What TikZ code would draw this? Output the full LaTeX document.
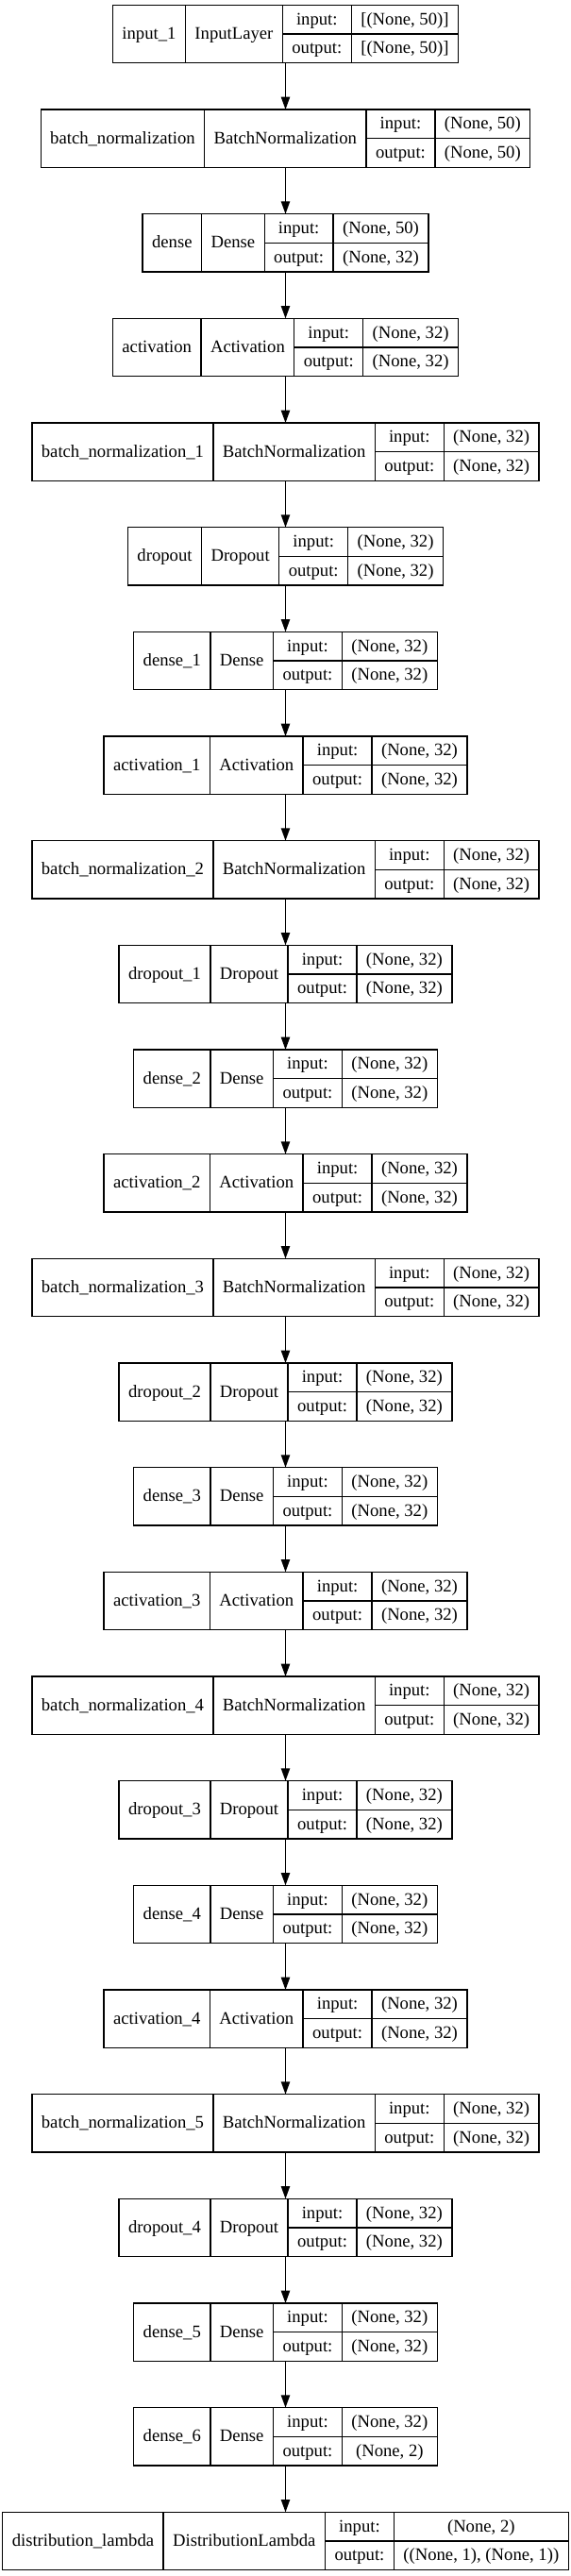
\documentclass[tikz,border=0pt]{standalone}
\usepackage{fontspec}
\setmainfont{Liberation Serif}
\usetikzlibrary{arrows.meta}
\newlength\klA \newlength\klB \newlength\klC \newlength\klD \newlength\klE
\def\kpad{15}
\def\kbase{4.2}
\newcommand\kfont{\normalfont\fontsize{14pt}{16.8pt}\selectfont}
\tikzset{
  rec/.style={draw, line width=1pt, inner sep=0pt, outer sep=0pt, minimum height=46pt},
  cell/.style={draw, line width=1pt},
  txt/.style={inner sep=0pt, anchor=base, font=\kfont},
  arr/.style={line width=1pt, -{Triangle[length=10pt,width=7pt]}}
}
\newcommand\kl[6]{%
  \pgfinterruptpicture
  \settowidth\klA{\kfont #3}\global\klA=\klA
  \settowidth\klB{\kfont #4}\global\klB=\klB
  \settowidth\klC{\kfont output:}\global\klC=\klC
  \settowidth\klD{\kfont #5}\global\klD=\klD
  \settowidth\klE{\kfont #6}\global\klE=\klE
  \endpgfinterruptpicture
  \pgfmathsetmacro\kwA{\klA+\kpad}%
  \pgfmathsetmacro\kwB{\klB+\kpad}%
  \pgfmathsetmacro\kwC{\klC+\kpad}%
  \pgfmathsetmacro\kwD{max(\klD,\klE)+\kpad}%
  \pgfmathsetmacro\kwT{\kwA+\kwB+\kwC+\kwD}%
  \pgfmathsetmacro\kxL{226.875-\kwT/2}%
  \pgfmathsetmacro\kxA{\kxL+\kwA}%
  \pgfmathsetmacro\kxB{\kxA+\kwB}%
  \pgfmathsetmacro\kxC{\kxB+\kwC}%
  \pgfmathsetmacro\kxR{\kxL+\kwT}%
  \pgfmathsetmacro\kcA{(\kxL+\kxA)/2}%
  \pgfmathsetmacro\kcB{(\kxA+\kxB)/2}%
  \pgfmathsetmacro\kcC{(\kxB+\kxC)/2}%
  \pgfmathsetmacro\kcD{(\kxC+\kxR)/2}%
  \pgfmathsetmacro\kyT{-(4+83*#2)}%
  \pgfmathsetmacro\kyM{\kyT-23}%
  \pgfmathsetmacro\kyB{\kyT-46}%
  \pgfmathsetmacro\kyU{\kyT-11.5-\kbase}%
  \pgfmathsetmacro\kyD{\kyT-34.5-\kbase}%
  \pgfmathsetmacro\kyC{\kyM-\kbase}%
  \node[rec, minimum width=\kwT pt] (#1) at (226.875pt,\kyM pt) {};
  \draw[cell] (\kxA pt,\kyT pt) -- (\kxA pt,\kyB pt)
              (\kxB pt,\kyT pt) -- (\kxB pt,\kyB pt)
              (\kxC pt,\kyT pt) -- (\kxC pt,\kyB pt)
              (\kxB pt,\kyM pt) -- (\kxR pt,\kyM pt);
  \node[txt] (#1-name) at (\kcA pt,\kyC pt) {#3};
  \node[txt] (#1-class) at (\kcB pt,\kyC pt) {#4};
  \node[txt] (#1-inl) at (\kcC pt,\kyU pt) {input:};
  \node[txt] (#1-outl) at (\kcC pt,\kyD pt) {output:};
  \node[txt] (#1-ins) at (\kcD pt,\kyU pt) {#5};
  \node[txt] (#1-outs) at (\kcD pt,\kyD pt) {#6};
}
\begin{document}
\begin{tikzpicture}
\useasboundingbox (0,0) rectangle (453.75pt,-2046.75pt);
\fill[white] (0,0) rectangle (453.75pt,-2046.75pt);
\kl{n0}{0}{input\_1}{InputLayer}{[(None, 50)]}{[(None, 50)]}
\kl{n1}{1}{batch\_normalization}{BatchNormalization}{(None, 50)}{(None, 50)}
\kl{n2}{2}{dense}{Dense}{(None, 50)}{(None, 32)}
\kl{n3}{3}{activation}{Activation}{(None, 32)}{(None, 32)}
\kl{n4}{4}{batch\_normalization\_1}{BatchNormalization}{(None, 32)}{(None, 32)}
\kl{n5}{5}{dropout}{Dropout}{(None, 32)}{(None, 32)}
\kl{n6}{6}{dense\_1}{Dense}{(None, 32)}{(None, 32)}
\kl{n7}{7}{activation\_1}{Activation}{(None, 32)}{(None, 32)}
\kl{n8}{8}{batch\_normalization\_2}{BatchNormalization}{(None, 32)}{(None, 32)}
\kl{n9}{9}{dropout\_1}{Dropout}{(None, 32)}{(None, 32)}
\kl{n10}{10}{dense\_2}{Dense}{(None, 32)}{(None, 32)}
\kl{n11}{11}{activation\_2}{Activation}{(None, 32)}{(None, 32)}
\kl{n12}{12}{batch\_normalization\_3}{BatchNormalization}{(None, 32)}{(None, 32)}
\kl{n13}{13}{dropout\_2}{Dropout}{(None, 32)}{(None, 32)}
\kl{n14}{14}{dense\_3}{Dense}{(None, 32)}{(None, 32)}
\kl{n15}{15}{activation\_3}{Activation}{(None, 32)}{(None, 32)}
\kl{n16}{16}{batch\_normalization\_4}{BatchNormalization}{(None, 32)}{(None, 32)}
\kl{n17}{17}{dropout\_3}{Dropout}{(None, 32)}{(None, 32)}
\kl{n18}{18}{dense\_4}{Dense}{(None, 32)}{(None, 32)}
\kl{n19}{19}{activation\_4}{Activation}{(None, 32)}{(None, 32)}
\kl{n20}{20}{batch\_normalization\_5}{BatchNormalization}{(None, 32)}{(None, 32)}
\kl{n21}{21}{dropout\_4}{Dropout}{(None, 32)}{(None, 32)}
\kl{n22}{22}{dense\_5}{Dense}{(None, 32)}{(None, 32)}
\kl{n23}{23}{dense\_6}{Dense}{(None, 32)}{(None, 2)}
\kl{n24}{24}{distribution\_lambda}{DistributionLambda}{(None, 2)}{((None, 1), (None, 1))}
\foreach \i in {0,...,23}{
  \pgfmathtruncatemacro\j{\i+1}
  \draw[arr] (n\i.south) -- (n\j.north);
}
\end{tikzpicture}
\end{document}
